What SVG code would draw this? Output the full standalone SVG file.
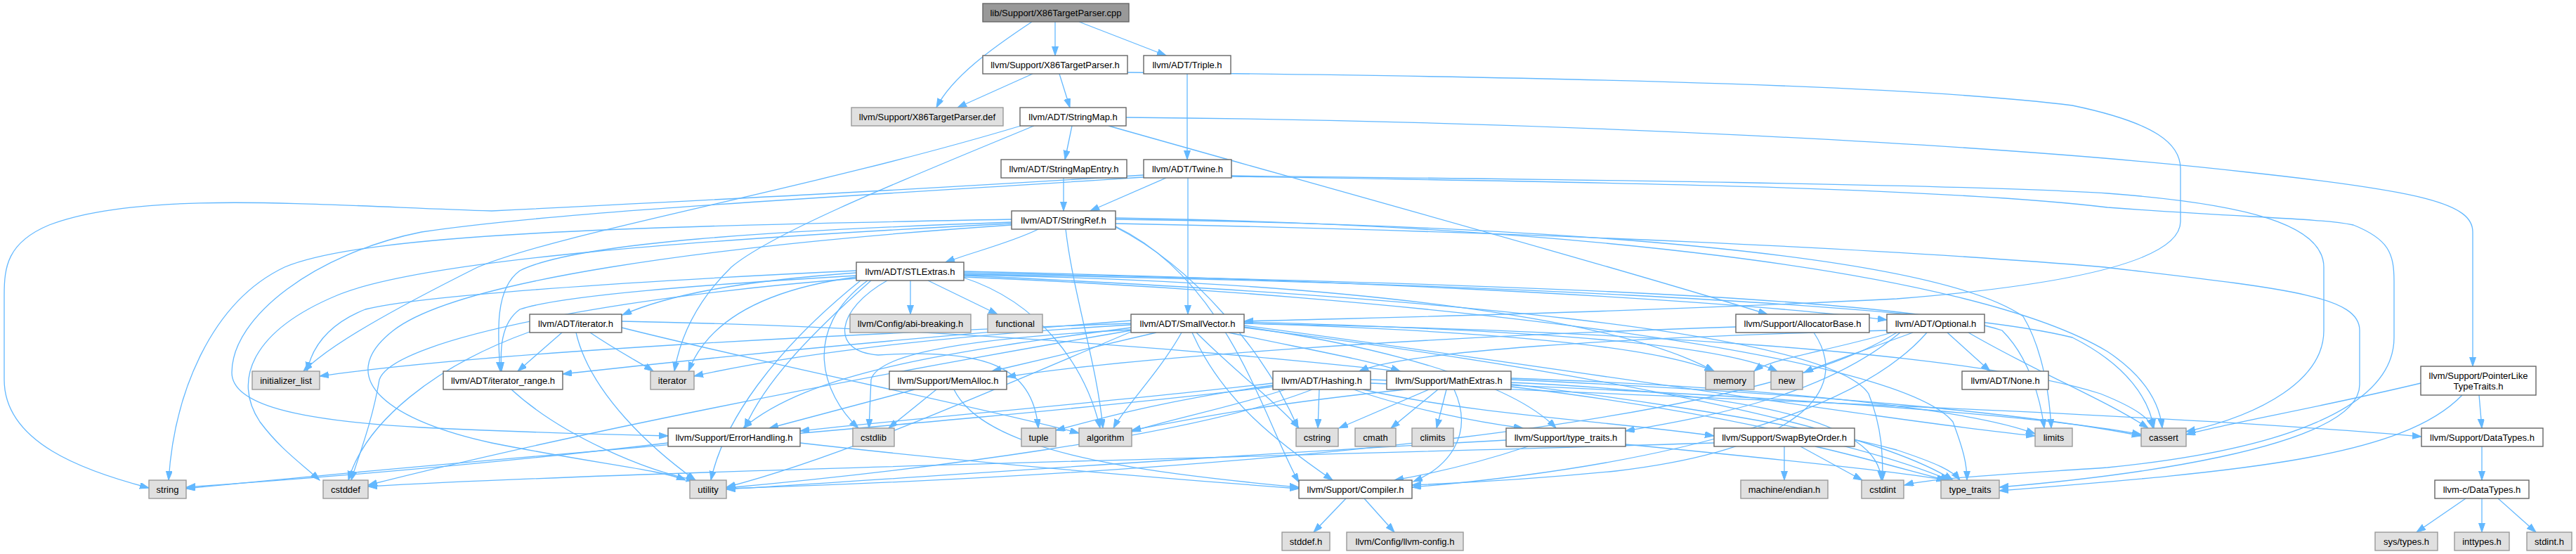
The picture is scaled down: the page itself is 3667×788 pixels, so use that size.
<svg xmlns="http://www.w3.org/2000/svg" width="3667" height="788" viewBox="0 0 3667 788">
<style>
rect{stroke-width:1.4}
.n rect{fill:#ffffff;stroke:#666666}
.g rect{fill:#e0e0e0;stroke:#999999}
.r rect{fill:#999999;stroke:#666666}
text{font-family:"Liberation Sans",Arial,sans-serif;font-size:13px;fill:#000000;text-anchor:middle}
#edges path{fill:none;stroke:#63b8ff;stroke-width:1.3;marker-end:url(#a)}
</style>
<defs>
<marker id="a" markerWidth="14" markerHeight="10" refX="13" refY="4.5" orient="auto" markerUnits="userSpaceOnUse"><path d="M0,0L13,4.5L0,9z" fill="#63b8ff" stroke="#63b8ff" stroke-width="1"/></marker>
</defs>
<rect x="0" y="0" width="3667" height="788" fill="#ffffff"/>
<g id="edges">
<path d="M1469,31 C1410,70 1355,110 1333,153"/>
<path d="M1502,31 L1502,79"/>
<path d="M1536,31 L1660,79"/>
<path d="M1470,105 L1363,153"/>
<path d="M1508,105 L1523,153"/>
<path d="M1605,103 C2100,108 2700,118 2950,150 C3070,175 3104,205 3104,240 L3104,315 C3104,370 2950,405 2700,425 C2300,445 1950,452 1771,457"/>
<path d="M1690,105 L1690,227"/>
<path d="M1526,179 L1516,227"/>
<path d="M1578,179 C1900,270 2300,380 2516,447"/>
<path d="M1603,167 C2200,172 2850,205 3200,245 C3450,272 3520,290 3520,330 L3520,521"/>
<path d="M1453,179 C1150,270 800,330 680,380 C560,440 470,490 432,528"/>
<path d="M1472,179 C1300,250 1100,330 1041,380 C1000,420 970,470 960,528"/>
<path d="M1514,253 L1514,300"/>
<path d="M1660,253 L1552,300"/>
<path d="M1691,253 L1691,447"/>
<path d="M1628,249 C1300,270 1000,285 700,300 C450,292 200,270 70,320 C10,345 6,380 6,420 L6,540 C6,630 120,670 212,694"/>
<path d="M1628,252 C1200,280 800,300 600,330 C450,360 330,450 330,530 C330,575 420,598 600,608 C750,615 850,618 951,620"/>
<path d="M1753,250 C2200,255 2800,262 3000,275 C3200,290 3308,320 3308,380 L3308,470 C3308,540 3220,590 3112,614"/>
<path d="M1753,251 C2200,258 2750,265 3000,295 C3200,310 3300,310 3350,320 C3400,340 3408,360 3408,400 L3408,480 C3408,580 3250,640 3000,665 C2850,675 2750,680 2711,690"/>
<path d="M1478,326 C1440,345 1380,360 1346,373"/>
<path d="M1517,326 C1528,420 1562,520 1570,609"/>
<path d="M1440,316 C1100,328 820,345 740,385 C705,410 708,470 712,528"/>
<path d="M1440,312 C900,322 520,332 405,380 C300,430 248,560 240,683"/>
<path d="M1440,318 C1000,340 600,370 480,420 C360,470 330,540 370,600 C400,640 430,660 455,683"/>
<path d="M1440,320 C1000,350 650,400 560,470 C470,540 560,600 700,630 C850,660 940,668 976,683"/>
<path d="M1588,322 C1750,400 1800,600 1849,686"/>
<path d="M1588,310 C2200,320 2800,380 3000,500 C3060,540 3075,580 3078,609"/>
<path d="M1588,312 C2200,320 2750,360 2880,450 C2910,500 2918,570 2920,609"/>
<path d="M1588,318 C2200,330 2700,355 2996,380 C3250,410 3359,420 3359,470 L3359,547 C3359,640 3000,680 2846,693"/>
<path d="M1588,323 C1700,380 1800,500 1848,609"/>
<path d="M1296,399 L1296,447"/>
<path d="M1321,399 L1420,447"/>
<path d="M1219,388 C1050,400 950,420 886,448"/>
<path d="M1219,392 C1000,405 800,420 740,440 C712,460 712,500 714,528"/>
<path d="M1240,399 C1160,470 1090,540 1060,609"/>
<path d="M1263,399 C1190,440 1180,500 1250,505 C1400,495 1470,520 1478,609"/>
<path d="M1235,399 C1140,470 1170,560 1222,609"/>
<path d="M1372,395 C1480,430 1545,520 1566,609"/>
<path d="M1219,385 C900,400 600,420 520,440 C470,460 445,490 437,528"/>
<path d="M1219,394 C1100,410 1010,450 980,528"/>
<path d="M1219,396 C900,420 560,480 540,540 C530,600 510,650 500,683"/>
<path d="M1225,399 C1100,500 1030,600 1012,683"/>
<path d="M1372,386 C1800,395 2400,420 2686,455"/>
<path d="M1372,388 C2000,400 2700,420 2850,470 C2890,510 2905,570 2910,609"/>
<path d="M1372,390 C2000,400 2750,430 2950,480 C3030,520 3060,570 3066,609"/>
<path d="M1372,392 C2000,420 2600,470 2660,560 C2680,610 2680,650 2680,683"/>
<path d="M1372,391 C1900,400 2300,450 2440,528"/>
<path d="M1372,394 C2000,420 2700,500 2780,600 C2795,640 2800,660 2800,683"/>
<path d="M800,473 L737,528"/>
<path d="M885,466 C1100,520 1400,580 1536,616"/>
<path d="M754,472 C620,520 520,600 496,683"/>
<path d="M840,473 C880,500 910,515 930,528"/>
<path d="M885,457 C1600,470 2400,560 2700,640 C2760,660 2780,670 2790,683"/>
<path d="M820,473 C840,560 930,640 990,683"/>
<path d="M1610,456 C1300,480 1000,510 801,532"/>
<path d="M1697,473 C1740,570 1820,630 1897,683"/>
<path d="M1610,466 C1350,500 1150,530 1058,609"/>
<path d="M1749,473 C1850,495 1950,512 1993,528"/>
<path d="M1646,473 L1412,528"/>
<path d="M1771,465 C1950,490 2150,540 2215,609"/>
<path d="M1682,473 C1650,530 1600,580 1585,609"/>
<path d="M1771,460 C2300,470 2800,500 2990,560 C3040,580 3060,595 3065,609"/>
<path d="M1610,470 C1200,540 800,620 524,690"/>
<path d="M1610,469 C1400,480 1250,500 1240,540 L1237,609"/>
<path d="M1703,473 C1760,530 1820,575 1849,609"/>
<path d="M1610,460 C1200,475 700,500 455,535"/>
<path d="M1610,462 C1300,480 1100,510 988,535"/>
<path d="M1771,463 C2200,520 2700,600 2897,620"/>
<path d="M1771,460 C2100,470 2350,490 2440,528"/>
<path d="M1771,458 C2200,470 2450,490 2530,528"/>
<path d="M1771,466 C2200,520 2650,600 2780,683"/>
<path d="M1610,472 C1400,560 1200,650 1034,693"/>
<path d="M1358,554 C1400,640 1600,670 1849,693"/>
<path d="M1302,554 L1095,609"/>
<path d="M1333,554 L1265,609"/>
<path d="M1951,545 C2500,570 3100,590 3447,621"/>
<path d="M1812,545 C1600,570 1300,595 1139,613"/>
<path d="M1940,554 C2100,590 2300,600 2440,620"/>
<path d="M1927,554 C2000,580 2100,600 2168,609"/>
<path d="M1830,554 C1750,580 1650,600 1611,614"/>
<path d="M1951,540 C2500,560 2900,590 3048,618"/>
<path d="M1878,554 L1876,609"/>
<path d="M1812,550 C1400,600 700,650 265,695"/>
<path d="M1812,548 C1650,570 1550,600 1503,612"/>
<path d="M1868,554 C1700,620 1300,670 1034,694"/>
<path d="M2070,554 C2100,620 2060,665 2012,685"/>
<path d="M2001,554 C1800,575 1700,595 1611,612"/>
<path d="M2151,540 C2600,560 2900,590 3048,620"/>
<path d="M2059,554 L2045,609"/>
<path d="M2047,554 L1980,609"/>
<path d="M2151,544 C2500,560 2675,600 2678,683"/>
<path d="M2034,554 L1906,609"/>
<path d="M2151,538 C2500,550 2800,580 2897,617"/>
<path d="M2151,550 C2400,580 2650,630 2775,683"/>
<path d="M3529,562 L3533,609"/>
<path d="M3446,545 C3300,580 3180,600 3112,618"/>
<path d="M3505,562 C3420,650 3200,670 2846,698"/>
<path d="M1139,630 C1400,660 1650,680 1849,695"/>
<path d="M951,630 C700,660 450,680 265,693"/>
<path d="M2582,473 C2640,560 2550,640 2300,670 C2150,685 2050,688 2010,690"/>
<path d="M2471,465 C2000,480 1600,510 1433,536"/>
<path d="M2686,470 C2300,480 2000,500 1935,528"/>
<path d="M2772,473 L2833,528"/>
<path d="M2743,473 C2650,580 2400,660 2010,693"/>
<path d="M2705,473 C2600,560 2450,590 2314,613"/>
<path d="M2802,473 C2900,530 3000,570 3058,609"/>
<path d="M2693,473 C2600,500 2520,510 2497,528"/>
<path d="M2723,473 C2650,500 2590,520 2568,530"/>
<path d="M2700,473 C2500,600 1800,670 1034,695"/>
<path d="M2175,635 C2100,660 2030,675 1985,683"/>
<path d="M2314,632 C2500,650 2700,670 2770,683"/>
<path d="M2144,626 C1700,650 1300,680 1034,696"/>
<path d="M2540,635 L2540,683"/>
<path d="M2563,635 L2651,683"/>
<path d="M2584,635 C2650,650 2720,670 2770,683"/>
<path d="M2440,630 C1800,650 900,670 524,692"/>
<path d="M3533,635 L3533,683"/>
<path d="M3510,709 L3440,757"/>
<path d="M3533,709 L3533,757"/>
<path d="M3556,709 L3610,757"/>
<path d="M1916,709 L1870,757"/>
<path d="M1942,709 L1985,757"/>
<path d="M728,554 C800,620 920,670 990,683"/>
</g>
<g id="n_cpp" class="r"><rect x="1399" y="5" width="208" height="26"/><text x="1503" y="22.5">lib/Support/X86TargetParser.cpp</text></g>
<g id="n_x86h" class="n"><rect x="1399" y="79" width="206" height="26"/><text x="1502" y="96.5">llvm/Support/X86TargetParser.h</text></g>
<g id="n_triple" class="n"><rect x="1628" y="79" width="124" height="26"/><text x="1690" y="96.5">llvm/ADT/Triple.h</text></g>
<g id="n_def" class="g"><rect x="1212" y="153" width="216" height="26"/><text x="1320" y="170.5">llvm/Support/X86TargetParser.def</text></g>
<g id="n_smap" class="n"><rect x="1452" y="153" width="151" height="26"/><text x="1527.5" y="170.5">llvm/ADT/StringMap.h</text></g>
<g id="n_smapent" class="n"><rect x="1425" y="227" width="179" height="26"/><text x="1514.5" y="244.5">llvm/ADT/StringMapEntry.h</text></g>
<g id="n_twine" class="n"><rect x="1628" y="227" width="125" height="26"/><text x="1690.5" y="244.5">llvm/ADT/Twine.h</text></g>
<g id="n_sref" class="n"><rect x="1440" y="300" width="148" height="26"/><text x="1514" y="317.5">llvm/ADT/StringRef.h</text></g>
<g id="n_stl" class="n"><rect x="1219" y="373" width="153" height="26"/><text x="1295.5" y="390.5">llvm/ADT/STLExtras.h</text></g>
<g id="n_iterh" class="n"><rect x="754" y="447" width="131" height="26"/><text x="819.5" y="464.5">llvm/ADT/iterator.h</text></g>
<g id="n_abi" class="g"><rect x="1210" y="447" width="172" height="26"/><text x="1296" y="464.5">llvm/Config/abi-breaking.h</text></g>
<g id="n_functional" class="g"><rect x="1406" y="447" width="78" height="26"/><text x="1445" y="464.5">functional</text></g>
<g id="n_svec" class="n"><rect x="1610" y="447" width="161" height="26"/><text x="1690.5" y="464.5">llvm/ADT/SmallVector.h</text></g>
<g id="n_alloc" class="n"><rect x="2471" y="447" width="190" height="26"/><text x="2566" y="464.5">llvm/Support/AllocatorBase.h</text></g>
<g id="n_opt" class="n"><rect x="2686" y="447" width="139" height="26"/><text x="2755.5" y="464.5">llvm/ADT/Optional.h</text></g>
<g id="n_initlist" class="g"><rect x="359" y="528" width="96" height="26"/><text x="407" y="545.5">initializer_list</text></g>
<g id="n_iterrange" class="n"><rect x="631" y="528" width="170" height="26"/><text x="716" y="545.5">llvm/ADT/iterator_range.h</text></g>
<g id="n_iterator" class="g"><rect x="926" y="528" width="62" height="26"/><text x="957" y="545.5">iterator</text></g>
<g id="n_memalloc" class="n"><rect x="1266" y="528" width="167" height="26"/><text x="1349.5" y="545.5">llvm/Support/MemAlloc.h</text></g>
<g id="n_hashing" class="n"><rect x="1812" y="528" width="139" height="26"/><text x="1881.5" y="545.5">llvm/ADT/Hashing.h</text></g>
<g id="n_math" class="n"><rect x="1974" y="528" width="177" height="26"/><text x="2062.5" y="545.5">llvm/Support/MathExtras.h</text></g>
<g id="n_memory" class="g"><rect x="2428" y="528" width="69" height="26"/><text x="2462.5" y="545.5">memory</text></g>
<g id="n_new" class="g"><rect x="2521" y="528" width="45" height="26"/><text x="2543.5" y="545.5">new</text></g>
<g id="n_none" class="n"><rect x="2793" y="528" width="123" height="26"/><text x="2854.5" y="545.5">llvm/ADT/None.h</text></g>
<g id="n_ptrlike" class="n"><rect x="3446" y="521" width="164" height="41"/><text x="3528" y="538.5">llvm/Support/PointerLike</text><text x="3528" y="553.5">TypeTraits.h</text></g>
<g id="n_errh" class="n"><rect x="951" y="609" width="188" height="26"/><text x="1045" y="626.5">llvm/Support/ErrorHandling.h</text></g>
<g id="n_cstdlib" class="g"><rect x="1214" y="609" width="59" height="26"/><text x="1243.5" y="626.5">cstdlib</text></g>
<g id="n_tuple" class="g"><rect x="1454" y="609" width="49" height="26"/><text x="1478.5" y="626.5">tuple</text></g>
<g id="n_algorithm" class="g"><rect x="1536" y="609" width="75" height="26"/><text x="1573.5" y="626.5">algorithm</text></g>
<g id="n_cstring" class="g"><rect x="1845" y="609" width="60" height="26"/><text x="1875" y="626.5">cstring</text></g>
<g id="n_cmath" class="g"><rect x="1929" y="609" width="58" height="26"/><text x="1958" y="626.5">cmath</text></g>
<g id="n_climits" class="g"><rect x="2010" y="609" width="59" height="26"/><text x="2039.5" y="626.5">climits</text></g>
<g id="n_ltt" class="n"><rect x="2144" y="609" width="170" height="26"/><text x="2229" y="626.5">llvm/Support/type_traits.h</text></g>
<g id="n_swap" class="n"><rect x="2440" y="609" width="200" height="26"/><text x="2540" y="626.5">llvm/Support/SwapByteOrder.h</text></g>
<g id="n_limits" class="g"><rect x="2897" y="609" width="53" height="26"/><text x="2923.5" y="626.5">limits</text></g>
<g id="n_cassert" class="g"><rect x="3048" y="609" width="64" height="26"/><text x="3080" y="626.5">cassert</text></g>
<g id="n_datatypes" class="n"><rect x="3447" y="609" width="173" height="26"/><text x="3533.5" y="626.5">llvm/Support/DataTypes.h</text></g>
<g id="n_string" class="g"><rect x="212" y="683" width="53" height="26"/><text x="238.5" y="700.5">string</text></g>
<g id="n_cstddef" class="g"><rect x="460" y="683" width="64" height="26"/><text x="492" y="700.5">cstddef</text></g>
<g id="n_utility" class="g"><rect x="982" y="683" width="52" height="26"/><text x="1008" y="700.5">utility</text></g>
<g id="n_compiler" class="n"><rect x="1849" y="683" width="161" height="26"/><text x="1929.5" y="700.5">llvm/Support/Compiler.h</text></g>
<g id="n_endian" class="g"><rect x="2478" y="683" width="124" height="26"/><text x="2540" y="700.5">machine/endian.h</text></g>
<g id="n_cstdint" class="g"><rect x="2650" y="683" width="60" height="26"/><text x="2680" y="700.5">cstdint</text></g>
<g id="n_typetraits" class="g"><rect x="2763" y="683" width="83" height="26"/><text x="2804.5" y="700.5">type_traits</text></g>
<g id="n_cdatatypes" class="n"><rect x="3466" y="683" width="134" height="26"/><text x="3533" y="700.5">llvm-c/DataTypes.h</text></g>
<g id="n_stddefh" class="g"><rect x="1825" y="757" width="68" height="26"/><text x="1859" y="774.5">stddef.h</text></g>
<g id="n_llvmconfig" class="g"><rect x="1917" y="757" width="166" height="26"/><text x="2000" y="774.5">llvm/Config/llvm-config.h</text></g>
<g id="n_systypes" class="g"><rect x="3381" y="757" width="89" height="26"/><text x="3425.5" y="774.5">sys/types.h</text></g>
<g id="n_inttypes" class="g"><rect x="3494" y="757" width="78" height="26"/><text x="3533" y="774.5">inttypes.h</text></g>
<g id="n_stdinth" class="g"><rect x="3597" y="757" width="64" height="26"/><text x="3629" y="774.5">stdint.h</text></g>
</svg>
